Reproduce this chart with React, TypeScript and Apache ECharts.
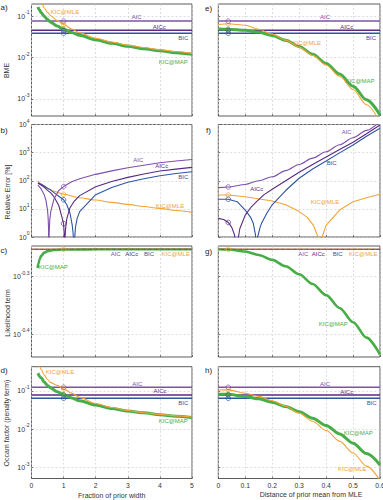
import { useEffect, useRef } from "react";
import * as echarts from "echarts";

// ---- x grids -------------------------------------------------------------
const FRAC_MAX = 5; // fraction of prior width (panels a–d)
const DIST_MAX = 0.6; // distance of prior mean from MLE (panels e–h)
const FRAC_MARK = 1;
const DIST_MARK = 0.037;

// ---- constant information criteria (AIC, AICc, BIC) ----------------------
const icBME = [0.077, 0.046, 0.039];
const icOccam = [0.125, 0.0787, 0.0645];
const icLik = [0.5596, 0.5596, 0.5596];
const mleLik = 0.5596;

// ---- a) BME vs. prior width ----------------------------------------------
const fracMapA = [0.2, 0.25, 0.3, 0.4, 0.5, 0.6, 0.8, 1, 1.25, 1.5, 2, 2.5, 3, 3.5, 4, 4.5, 5];
const bmeMapA = [0.17, 0.143, 0.124, 0.0995, 0.0837, 0.0727, 0.0582, 0.049, 0.0405, 0.0347, 0.0272, 0.0223, 0.0189, 0.0165, 0.0146, 0.0132, 0.012];
const fracMleA = [0.2, 0.3, 0.4, 0.5, 0.6, 0.8, 1, 1.25, 1.5, 2, 2.5, 3, 3.5, 4, 4.5, 5];
const bmeMleA = [0.39, 0.229, 0.161, 0.1256, 0.104, 0.0792, 0.0637, 0.0494, 0.0399, 0.0296, 0.0239, 0.0201, 0.0176, 0.01555, 0.01406, 0.0128];

// ---- e) BME vs. prior mean distance ----------------------------------------
const distE = [0, 0.037, 0.1, 0.15, 0.2, 0.25, 0.3, 0.35, 0.4, 0.45, 0.5, 0.55, 0.6];
const bmeMleE = [0.0638, 0.0664, 0.061, 0.049, 0.0372, 0.0266, 0.018, 0.01135, 0.00661, 0.00351, 0.00168, 0.000716, 0.000272];
const bmeMapE = [0.0493, 0.0491, 0.0462, 0.0417, 0.0346, 0.0265, 0.0187, 0.0121, 0.00723, 0.00398, 0.00202, 0.000942, 0.000406];

// ---- b) relative error [%] vs. prior width ---------------------------------
const fracAicB = [0.2, 0.3, 0.4, 0.45, 0.5, 0.52, 0.53, 0.54, 0.55, 0.57, 0.6, 0.7, 0.85, 1, 1.25, 1.5, 2, 2.5, 3, 3.5, 4, 4.5, 5];
const errAicB = [70, 51, 31, 20, 9, 4.4, 2.2, 0.1, 1.4, 4.2, 8, 22.6, 45, 62, 92, 117, 169, 225, 289, 358, 438, 502, 570];
const fracAiccB = [0.2, 0.3, 0.4, 0.5, 0.6, 0.7, 0.85, 0.95, 1, 1.02, 1.03, 1.04, 1.06, 1.1, 1.2, 1.32, 1.5, 2, 2.5, 3, 3.5, 4, 4.5, 5];
const errAiccB = [82, 71, 58.6, 45.6, 37, 26.8, 13.2, 5, 3, 1.2, 0.1, 0.8, 1.9, 4.5, 11, 18, 29.6, 61, 94, 132, 174, 222, 259, 300];
const fracBicB = [0.2, 0.3, 0.4, 0.5, 0.6, 0.7, 0.85, 1, 1.1, 1.2, 1.27, 1.3, 1.32, 1.34, 1.37, 1.42, 1.5, 2, 2.5, 3, 3.5, 4, 4.5, 5];
const errBicB = [85, 75, 65, 54, 46.6, 38, 28, 21, 14, 7, 2.6, 1.2, 0.1, 0.8, 2.2, 4.5, 8, 32, 58, 88, 118, 150, 180, 210];
const fracMleB = [0.2, 0.3, 0.4, 0.5, 0.7, 1, 1.5, 2, 2.5, 3, 3.5, 4, 4.5, 5];
const errMleB = [100, 76, 62, 53, 42, 33, 25, 20.6, 17, 14.4, 12.2, 10.4, 8.8, 7.5];

// ---- f) relative error [%] vs. prior mean distance -------------------------
const distAicF = [0, 0.037, 0.1, 0.15, 0.2, 0.25, 0.3, 0.35, 0.4, 0.45, 0.5, 0.55, 0.6];
const errAicF = [57, 60, 74, 100, 138, 230, 380, 640, 1070, 1900, 3400, 6200, 13000];
const distAiccF = [0, 0.02, 0.037, 0.05, 0.06, 0.065, 0.068, 0.072, 0.08, 0.1, 0.12, 0.142, 0.17, 0.2, 0.25, 0.3, 0.35, 0.4, 0.45, 0.5, 0.55, 0.6];
const errAiccF = [4.6, 4.2, 3.3, 2.2, 1.2, 0.6, 0.05, 0.7, 2, 6, 11, 18, 32, 50, 100, 200, 380, 700, 1300, 2340, 4700, 9600];
const distBicF = [0, 0.037, 0.07, 0.1, 0.12, 0.13, 0.138, 0.142, 0.146, 0.155, 0.16, 0.18, 0.2, 0.25, 0.3, 0.35, 0.4, 0.45, 0.5, 0.55, 0.6];
const errBicF = [22, 22, 18, 9, 5, 3, 1.2, 0.05, 1, 2.2, 3, 7, 14, 45, 123, 260, 500, 980, 1870, 3800, 7300];
const distMleF = [0, 0.037, 0.1, 0.2, 0.25, 0.3, 0.33, 0.353, 0.37, 0.377, 0.385, 0.4, 0.45, 0.5, 0.55, 0.6];
const errMleF = [31, 31, 27, 19, 14, 8, 5, 2.6, 1, 0.05, 1, 2.6, 9.1, 17.8, 25, 33];

// ---- c) likelihood term vs. prior width ------------------------------------
const fracMapC = [0.19, 0.22, 0.25, 0.3, 0.4, 0.5, 0.7, 1, 1.5, 2, 3, 4, 5];
const likMapC = [0.519, 0.529, 0.537, 0.545, 0.552, 0.5555, 0.558, 0.559, 0.5593, 0.5595, 0.5595, 0.5596, 0.5596];

// ---- g) likelihood term vs. prior mean distance ----------------------------
const distG = [0, 0.037, 0.1, 0.15, 0.2, 0.25, 0.3, 0.35, 0.4, 0.45, 0.5, 0.55, 0.6];
const likMapG = [0.5596, 0.5592, 0.5545, 0.5468, 0.5362, 0.5226, 0.5061, 0.4868, 0.4654, 0.4421, 0.4175, 0.3924, 0.3664];

// ---- d) Occam factor vs. prior width ---------------------------------------
const fracMapD = [0.2, 0.3, 0.4, 0.5, 0.6, 0.8, 1, 1.25, 1.5, 2, 2.5, 3, 3.5, 4, 4.5, 5];
const occMapD = [0.29, 0.22, 0.17, 0.14, 0.12, 0.095, 0.08, 0.066, 0.056, 0.043, 0.035, 0.03, 0.027, 0.024, 0.022, 0.0205];
const fracMleD = [0.2, 0.26, 0.3, 0.4, 0.5, 0.6, 0.8, 1, 1.25, 1.5, 2, 2.5, 3, 3.5, 4, 4.5, 5];
const occMleD = [0.6, 0.43, 0.37, 0.26, 0.2, 0.165, 0.14, 0.113, 0.088, 0.068, 0.047, 0.037, 0.031, 0.027, 0.0245, 0.0225, 0.021];

// ---- h) Occam factor vs. prior mean distance -------------------------------
const distH = [0, 0.037, 0.1, 0.15, 0.2, 0.25, 0.3, 0.35, 0.4, 0.45, 0.5, 0.55, 0.6];
const occMleH = [0.106, 0.107, 0.0871, 0.0724, 0.0558, 0.04, 0.0265, 0.0163, 0.00931, 0.00493, 0.00242, 0.0011, 0.000466];
const occMapH = [0.082, 0.0817, 0.0716, 0.0624, 0.0512, 0.0394, 0.0286, 0.0196, 0.0126, 0.00762, 0.00435, 0.00233, 0.00118];

// ---- y-axis tick values (log axes) -----------------------------------------
const bmeTicks = [1e-3, 1e-2, 1e-1];
const errTicks = [1, 10, 100, 1000, 10000];
const likTicks = [Math.pow(10, -0.4), Math.pow(10, -0.3)];
const occTicks = [1e-3, 1e-2, 1e-1];

const ICS = ["AIC", "AICc", "BIC"];

const FONT = '"Liberation Sans", Arial, Helvetica, sans-serif';
const C_AIC = "#7d50aa";
const C_AICC = "#592a80";
const C_BIC = "#2f55a2";
const C_MLE = "#f3a337";
const C_MAP = "#47ad47";
const IC_COLORS = [C_AIC, C_AICC, C_BIC];

const pairs = (xs: number[], ys: number[]) => xs.map((x, i) => [x, ys[i]]);
const at = (xs: number[], ys: number[], x: number) => ys[xs.indexOf(x)];

function buildOption() {
  const cols = [
    { left: 31.5, width: 160.5, max: FRAC_MAX, interval: 1 },
    { left: 218.3, width: 161.7, max: DIST_MAX, interval: 0.1 },
  ];
  const rows = [
    { top: 4, height: 112, min: 3.81e-4, max: 0.2006, ticks: bmeTicks },
    { top: 124.5, height: 112.5, min: 1, max: 10000, ticks: errTicks },
    { top: 246, height: 111, min: 0.363, max: 0.567, ticks: likTicks },
    { top: 366.7, height: 111.8, min: 5.23e-4, max: 0.43, ticks: occTicks },
  ];

  const grid: any[] = [];
  const xAxis: any[] = [];
  const yAxis: any[] = [];
  const split = { show: true, lineStyle: { color: "#cfcfcf", width: 0.7, type: [2, 2] } };

  rows.forEach((r, ri) => {
    cols.forEach((c, ci) => {
      const p = ri * 2 + ci;
      grid.push({
        left: c.left, top: r.top, width: c.width, height: r.height,
        show: true, borderColor: "#4a4a4a", borderWidth: 0.9, backgroundColor: "#fff",
        containLabel: false, outerBoundsMode: "none",
      });
      xAxis.push({
        type: "value", gridIndex: p, min: 0, max: c.max, interval: c.interval,
        axisLine: { show: false },
        axisTick: { show: true, inside: true, length: 2, lineStyle: { color: "#4a4a4a", width: 0.7 } },
        axisLabel: { show: ri === 3, fontSize: 6.8, color: "#333", margin: 3, fontFamily: FONT },
        splitLine: split,
      });
      yAxis.push({
        type: "log", logBase: 10, gridIndex: p, min: r.min, max: r.max,
        axisLine: { show: false },
        axisTick: { show: true, inside: true, length: 2, customValues: r.ticks, lineStyle: { color: "#4a4a4a", width: 0.7 } },
        axisLabel: {
          show: ci === 0, customValues: r.ticks, margin: 2,
          formatter: (v: number) => {
            const e = Math.round(Math.log10(v) * 10) / 10;
            const s = Number.isInteger(e) ? String(e) : e.toFixed(1);
            return `{b|10}{s|${s}}`;
          },
          rich: {
            b: { fontSize: 7, fontFamily: FONT, color: "#333" },
            s: { fontSize: 5, fontFamily: FONT, color: "#333", padding: [0, 0, 8, 0] },
          },
        },
        splitLine: split,
      });
    });
  });

  const series: any[] = [];
  const line = (p: number, xs: number[], ys: number[], color: string, width: number, extra: any = {}) =>
    series.push({
      type: "line", xAxisIndex: p, yAxisIndex: p, data: pairs(xs, ys),
      showSymbol: false, symbol: "none", clip: true, silent: true,
      lineStyle: { color, width, ...(extra.lineStyle || {}) },
      itemStyle: { color }, smooth: extra.smooth ?? 0, smoothMonotone: "x", z: extra.z ?? 2,
    });
  const hline = (p: number, xmax: number, v: number, color: string, width: number, extra: any = {}) =>
    line(p, [0, xmax], [v, v], color, width, extra);
  const marks = (p: number, x: number, pts: [number, string][]) =>
    series.push({
      type: "scatter", xAxisIndex: p, yAxisIndex: p, silent: true, z: 6,
      symbol: "circle", symbolSize: 4.6,
      data: pts.map(([v, c]) => ({ value: [x, v], itemStyle: { borderColor: c } })),
      itemStyle: { color: "rgba(0,0,0,0)", borderWidth: 0.9 },
    });

  // a) BME, prior width
  icBME.forEach((v, i) => hline(0, FRAC_MAX, v, IC_COLORS[i], 1.5));
  line(0, fracMapA, bmeMapA, C_MAP, 3, { smooth: 0.3 });
  line(0, fracMleA, bmeMleA, C_MLE, 1.1, { smooth: 0.3 });
  marks(0, FRAC_MARK, [
    [icBME[0], C_AIC], [at(fracMleA, bmeMleA, FRAC_MARK), C_MLE], [icBME[1], C_AICC],
    [at(fracMapA, bmeMapA, FRAC_MARK), C_MAP], [icBME[2], C_BIC],
  ]);

  // e) BME, prior mean distance
  icBME.forEach((v, i) => hline(1, DIST_MAX, v, IC_COLORS[i], 1.5));
  line(1, distE, bmeMapE, C_MAP, 3, { smooth: 0.3 });
  line(1, distE, bmeMleE, C_MLE, 1.1, { smooth: 0.3 });
  marks(1, DIST_MARK, [
    [icBME[0], C_AIC], [at(distE, bmeMleE, DIST_MARK), C_MLE], [icBME[1], C_AICC],
    [at(distE, bmeMapE, DIST_MARK), C_MAP], [icBME[2], C_BIC],
  ]);

  // b) relative error, prior width
  line(2, fracMleB, errMleB, C_MLE, 1.1, { smooth: 0.3 });
  line(2, fracBicB, errBicB, C_BIC, 1.1);
  line(2, fracAiccB, errAiccB, C_AICC, 1.1);
  line(2, fracAicB, errAicB, C_AIC, 1.1);
  marks(2, FRAC_MARK, [
    [at(fracAicB, errAicB, FRAC_MARK), C_AIC], [at(fracMleB, errMleB, FRAC_MARK), C_MLE],
    [at(fracBicB, errBicB, FRAC_MARK), C_BIC], [at(fracAiccB, errAiccB, FRAC_MARK), C_AICC],
  ]);

  // f) relative error, prior mean distance
  line(3, distMleF, errMleF, C_MLE, 1.1);
  line(3, distBicF, errBicF, C_BIC, 1.1);
  line(3, distAiccF, errAiccF, C_AICC, 1.1);
  line(3, distAicF, errAicF, C_AIC, 1.1, { smooth: 0.3 });
  marks(3, DIST_MARK, [
    [at(distAicF, errAicF, DIST_MARK), C_AIC], [at(distMleF, errMleF, DIST_MARK), C_MLE],
    [at(distBicF, errBicF, DIST_MARK), C_BIC], [at(distAiccF, errAiccF, DIST_MARK), C_AICC],
  ]);

  // c) likelihood term, prior width
  line(4, fracMapC, likMapC, C_MAP, 2.6, { smooth: 0.4 });
  hline(4, FRAC_MAX, mleLik, C_MLE, 1.4);
  icLik.forEach((v, i) =>
    hline(4, FRAC_MAX, v, IC_COLORS[i], 1.1, { lineStyle: { type: [2, 4], dashOffset: i * 2 } })
  );
  marks(4, FRAC_MARK, [[mleLik, C_MLE]]);

  // g) likelihood term, prior mean distance
  line(5, distG, likMapG, C_MAP, 2.6, { smooth: 0.3 });
  hline(5, DIST_MAX, mleLik, C_MLE, 1.4);
  icLik.forEach((v, i) =>
    hline(5, DIST_MAX, v, IC_COLORS[i], 1.1, { lineStyle: { type: [2, 4], dashOffset: i * 2 } })
  );
  marks(5, DIST_MARK, [[mleLik, C_MLE]]);

  // d) Occam factor, prior width
  icOccam.forEach((v, i) => hline(6, FRAC_MAX, v, IC_COLORS[i], 1.5));
  line(6, fracMapD, occMapD, C_MAP, 3, { smooth: 0.3 });
  line(6, fracMleD, occMleD, C_MLE, 1.1, { smooth: 0.3 });
  marks(6, FRAC_MARK, [
    [icOccam[0], C_AIC], [at(fracMleD, occMleD, FRAC_MARK), C_MLE], [icOccam[1], C_AICC],
    [at(fracMapD, occMapD, FRAC_MARK), C_MAP], [icOccam[2], C_BIC],
  ]);

  // h) Occam factor, prior mean distance
  icOccam.forEach((v, i) => hline(7, DIST_MAX, v, IC_COLORS[i], 1.5));
  line(7, distH, occMapH, C_MAP, 3, { smooth: 0.3 });
  line(7, distH, occMleH, C_MLE, 1.1, { smooth: 0.3 });
  marks(7, DIST_MARK, [
    [icOccam[0], C_AIC], [at(distH, occMleH, DIST_MARK), C_MLE], [icOccam[1], C_AICC],
    [at(distH, occMapH, DIST_MARK), C_MAP], [icOccam[2], C_BIC],
  ]);

  // in-plot annotations
  const txt = (text: string, x: number, y: number, fill: string, size = 6, extra: any = {}) => ({
    type: "text", x, y, silent: true, z: 10, ...extra,
    style: {
      text, fill, fontSize: size, fontFamily: FONT,
      align: extra.align || "center", verticalAlign: "middle",
      textAlign: extra.align || "center", textVerticalAlign: "middle",
    },
  });
  const names = [...ICS, "KIC@MLE", "KIC@MAP"];
  const nameColors = [C_AIC, C_AICC, C_BIC, C_MLE, C_MAP];
  const placements: [number, number, number][][] = [
    // [name index, x, y]
    [[3, 65, 11.7], [0, 136.7, 17.3], [1, 159.3, 27], [2, 183.3, 38.3], [4, 173.3, 62.3]],
    [[0, 325, 17.3], [1, 346.7, 26.7], [2, 371, 38.3], [3, 306.7, 42.7], [4, 360, 80.7]],
    [[0, 138.3, 160], [1, 161.7, 166], [2, 183.3, 176.7], [3, 170, 205.7]],
    [[0, 346.7, 131.7], [1, 256.7, 189], [2, 331.7, 162.7], [3, 325, 202.3]],
    [[0, 115.7, 254.3], [1, 131.7, 254.3], [2, 149, 254.3], [3, 175.7, 254.3], [4, 53.3, 267.3]],
    [[0, 303.3, 254.3], [1, 318.3, 254.3], [2, 337.7, 254.3], [3, 363.3, 254.3], [4, 333.3, 324.3]],
    [[3, 60, 372.3], [0, 137.3, 384], [1, 160, 391], [2, 183.3, 403.3], [4, 173.3, 420.7]],
    [[0, 325, 384], [1, 346.7, 391.7], [2, 371.7, 402.7], [4, 358.3, 433.3], [3, 352.3, 469.3]],
  ];
  const graphics: any[] = [];
  placements.forEach((list) =>
    list.forEach(([k, x, y]) => graphics.push(txt(names[k], x, y, nameColors[k], 6)))
  );

  // panel letters
  const letters: [string, number, number][] = [
    ["a)", 0.5, 7], ["b)", 0.5, 130], ["c)", 0.5, 250], ["d)", 0.5, 370],
    ["e)", 205, 8], ["f)", 206, 130], ["g)", 205, 251], ["h)", 205, 370],
  ];
  letters.forEach(([t, x, y]) => graphics.push(txt(t, x, y, "#222", 8, { align: "left" })));

  // axis titles
  const yTitles: [string, number, number][] = [
    ["BME", 6.5, 70.5], ["Relative Error [%]", 7.3, 192], ["Likelihood term", 7.3, 313], ["Occam factor (penalty term)", 6.5, 423],
  ];
  yTitles.forEach(([t, x, y]) => graphics.push(txt(t, x, y, "#333", 7, { rotation: Math.PI / 2 })));
  graphics.push(txt("Fraction of prior width", 111.7, 495, "#333", 7));
  graphics.push(txt("Distance of prior mean from MLE", 311, 494.3, "#333", 7));

  return {
    animation: false,
    backgroundColor: "#fff",
    grid, xAxis, yAxis, series,
    graphic: { elements: graphics },
  };
}

export default function App() {
  const ref = useRef<HTMLDivElement>(null);
  useEffect(() => {
    if (!ref.current) return;
    const chart = echarts.init(ref.current, null, { renderer: "svg", width: 383, height: 500 });
    chart.setOption(buildOption() as any);
    return () => chart.dispose();
  }, []);
  return (
    <div
      ref={ref}
      style={{ position: "fixed", left: 0, top: 0, width: 383, height: 500, background: "#fff" }}
    />
  );
}
